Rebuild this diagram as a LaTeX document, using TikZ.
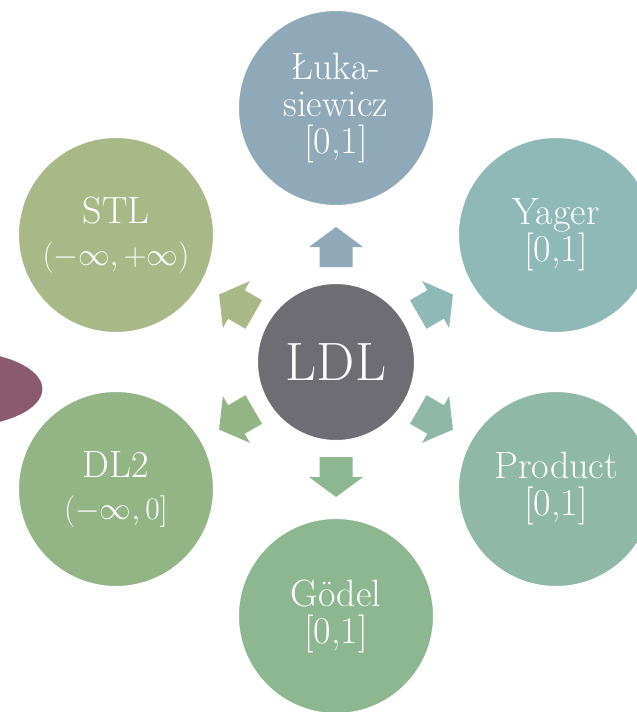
\documentclass[tikz,border=0pt]{standalone}
\usepackage{graphicx}
\usetikzlibrary{calc}
\definecolor{cLDL}{HTML}{6E6D73}
\definecolor{cLuk}{HTML}{8FA9B8}
\definecolor{cYag}{HTML}{8FB9B7}
\definecolor{cPro}{HTML}{8FB8A6}
\definecolor{cGod}{HTML}{8DB790}
\definecolor{cDL}{HTML}{93B586}
\definecolor{cSTL}{HTML}{A9B887}
\definecolor{cEll}{HTML}{8A5A6E}
\newcommand{\bigmath}[1]{\scalebox{1.27}{\fontsize{24.88}{30}\selectfont$#1$}}
\tikzset{
  outer/.style={circle, draw=white, line width=1pt, minimum size=195pt, inner sep=0pt, text=white, align=center, font=\fontsize{38}{37}\selectfont},
  hub/.style={circle, draw=white, line width=1pt, minimum size=157pt, inner sep=0pt, text=white, font=\fontsize{54}{60}\selectfont},
}
\newcommand{\blockarrow}[2]{%
  \begin{scope}[shift={(c)}, rotate=#1]
    \fill[#2] (95,-16.5) -- (115,-16.5) -- (115,-27) -- (135,0) -- (115,27) -- (115,16.5) -- (95,16.5) -- cycle;
  \end{scope}}
\begin{document}
\begin{tikzpicture}[x=1pt,y=-1pt]
\useasboundingbox (0,0) rectangle (637,712);
\coordinate (c) at (336,362);
\fill[cEll, draw=white, line width=1pt] (-40,389) ellipse [x radius=83, y radius=38];
\node[hub, fill=cLDL] (ldl) at (c) {LDL};
\node[outer, fill=cLuk] (luk) at (336,108) {Łuka-\\siewicz\\{[0,1]}};
\node[outer, fill=cYag] (yag) at (556,235) {Yager\\{[0,1]}};
\node[outer, fill=cPro] (pro) at (556,489) {Product\\{[0,1]}};
\node[outer, fill=cGod] (god) at (336,616) {Gödel\\{[0,1]}};
\node[outer, fill=cDL] (dl2) at (116,489) {DL2\\[5pt]\bigmath{(-\infty,0]}};
\node[outer, fill=cSTL] (stl) at (116,235) {STL\\[5pt]\bigmath{(-\infty,+\infty)}};
\blockarrow{90}{cLuk}
\blockarrow{30}{cYag}
\blockarrow{-30}{cPro}
\blockarrow{-90}{cGod}
\blockarrow{-150}{cDL}
\blockarrow{150}{cSTL}
\end{tikzpicture}
\end{document}
